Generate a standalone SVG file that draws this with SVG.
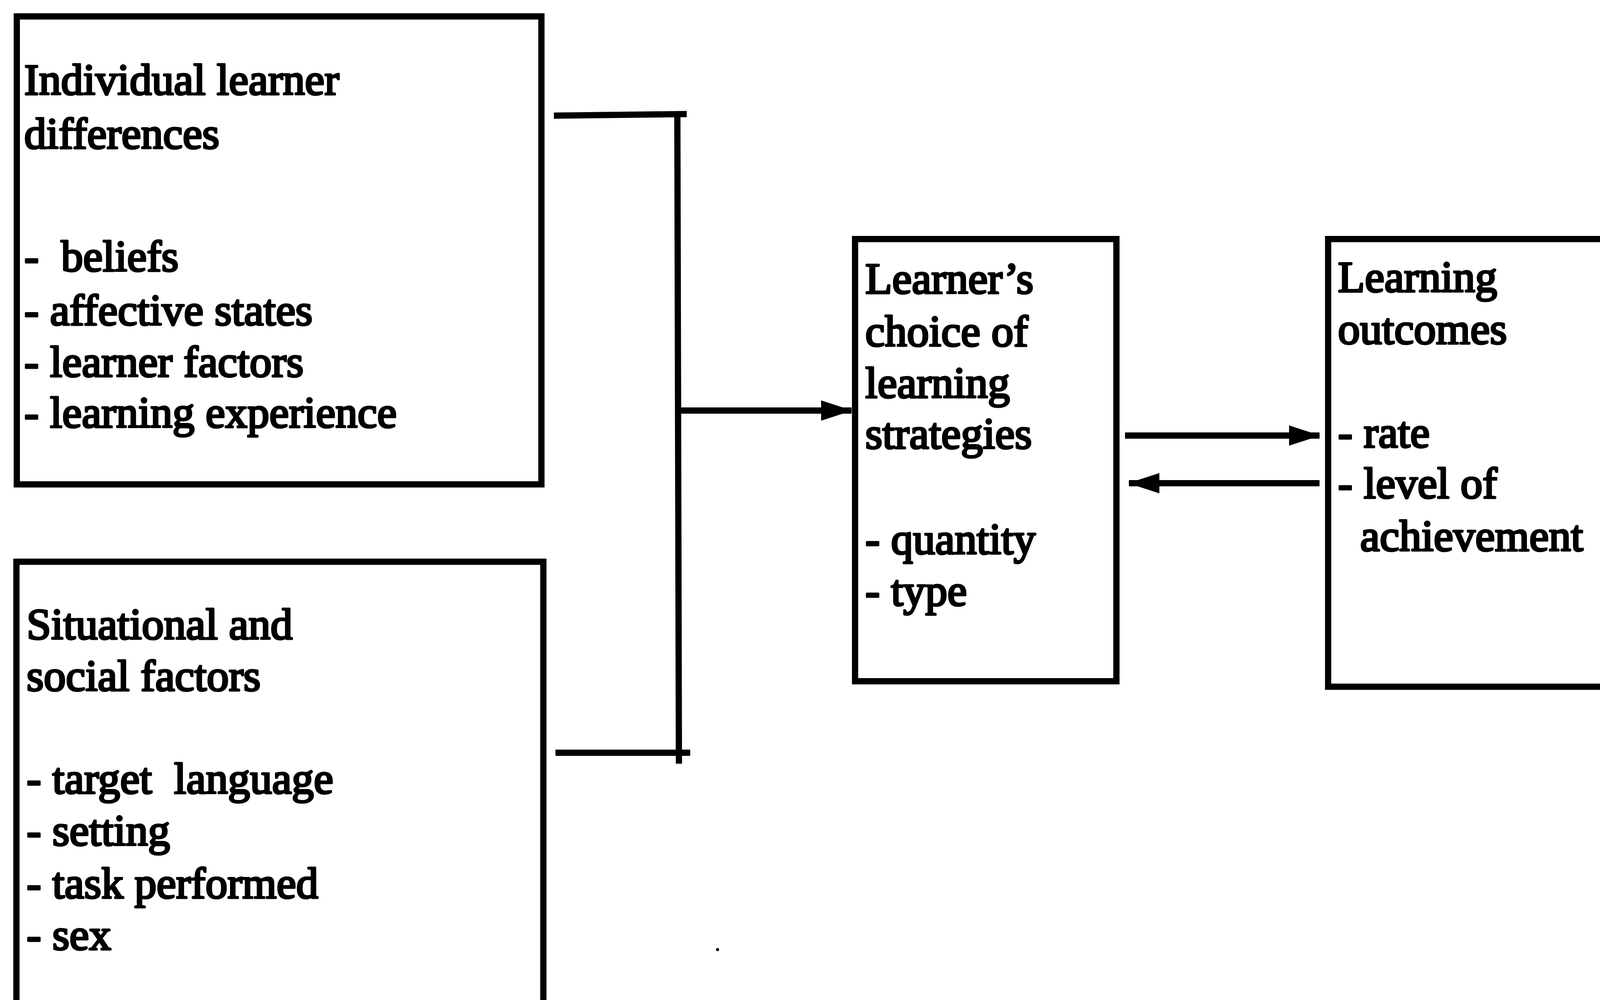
<svg xmlns="http://www.w3.org/2000/svg" width="4235" height="2560" viewBox="0 0 4235 2560">
<defs>
<style>
.box{fill:none;stroke:#000;stroke-width:16}
.ln{fill:none;stroke:#000;stroke-width:16}
.t{font-family:"Liberation Serif","Times New Roman",serif;font-size:113px;fill:#000;stroke:#000;stroke-width:5;stroke-linejoin:round;white-space:pre}
</style>
<marker id="ah" viewBox="0 0 80 52" refX="78" refY="26" markerWidth="80" markerHeight="52" markerUnits="userSpaceOnUse" orient="auto">
<path d="M0,0 L80,26 L0,52 Z" fill="#000"/>
</marker>
</defs>
<rect width="4235" height="2560" fill="#fff"/>
<g id="individual">
<rect class="box" x="43" y="42" width="1343" height="1198"/>
<text class="t" x="62" y="242">Individual learner</text>
<text class="t" x="62" y="380">differences</text>
<text class="t" x="62" y="694" xml:space="preserve">-  beliefs</text>
<text class="t" x="62" y="832">- affective states</text>
<text class="t" x="62" y="964">- learner factors</text>
<text class="t" x="62" y="1094">- learning experience</text>
</g>
<g id="situational">
<rect class="box" x="42" y="1438" width="1349" height="1200"/>
<text class="t" x="68" y="1636">Situational and</text>
<text class="t" x="68" y="1768">social factors</text>
<text class="t" x="68" y="2031" xml:space="preserve">- target  language</text>
<text class="t" x="68" y="2164">- setting</text>
<text class="t" x="68" y="2299">- task performed</text>
<text class="t" x="68" y="2431">- sex</text>
</g>
<g id="strategies">
<rect class="box" x="2189" y="612" width="669" height="1132"/>
<text class="t" x="2215" y="751">Learner’s</text>
<text class="t" x="2215" y="886">choice of</text>
<text class="t" x="2215" y="1018">learning</text>
<text class="t" x="2215" y="1148">strategies</text>
<text class="t" x="2215" y="1418">- quantity</text>
<text class="t" x="2215" y="1550">- type</text>
</g>
<g id="outcomes">
<rect class="box" x="3400" y="612" width="900" height="1146"/>
<text class="t" x="3425" y="747">Learning</text>
<text class="t" x="3425" y="880">outcomes</text>
<text class="t" x="3425" y="1145">- rate</text>
<text class="t" x="3425" y="1275">- level of</text>
<text class="t" x="3482" y="1410">achievement</text>
</g>
<g id="connectors">
<polyline class="ln" points="1418,296 1758,292"/>
<polyline class="ln" points="1734,292 1738,1955"/>
<polyline class="ln" points="1422,1927 1767,1927"/>
<line class="ln" x1="1736" y1="1051" x2="2180" y2="1051" marker-end="url(#ah)"/>
<line class="ln" x1="2880" y1="1115" x2="3378" y2="1115" marker-end="url(#ah)"/>
<line class="ln" x1="3378" y1="1237" x2="2890" y2="1237" marker-end="url(#ah)"/>
</g>
<circle cx="1837" cy="2431" r="4" fill="#000"/>
</svg>
